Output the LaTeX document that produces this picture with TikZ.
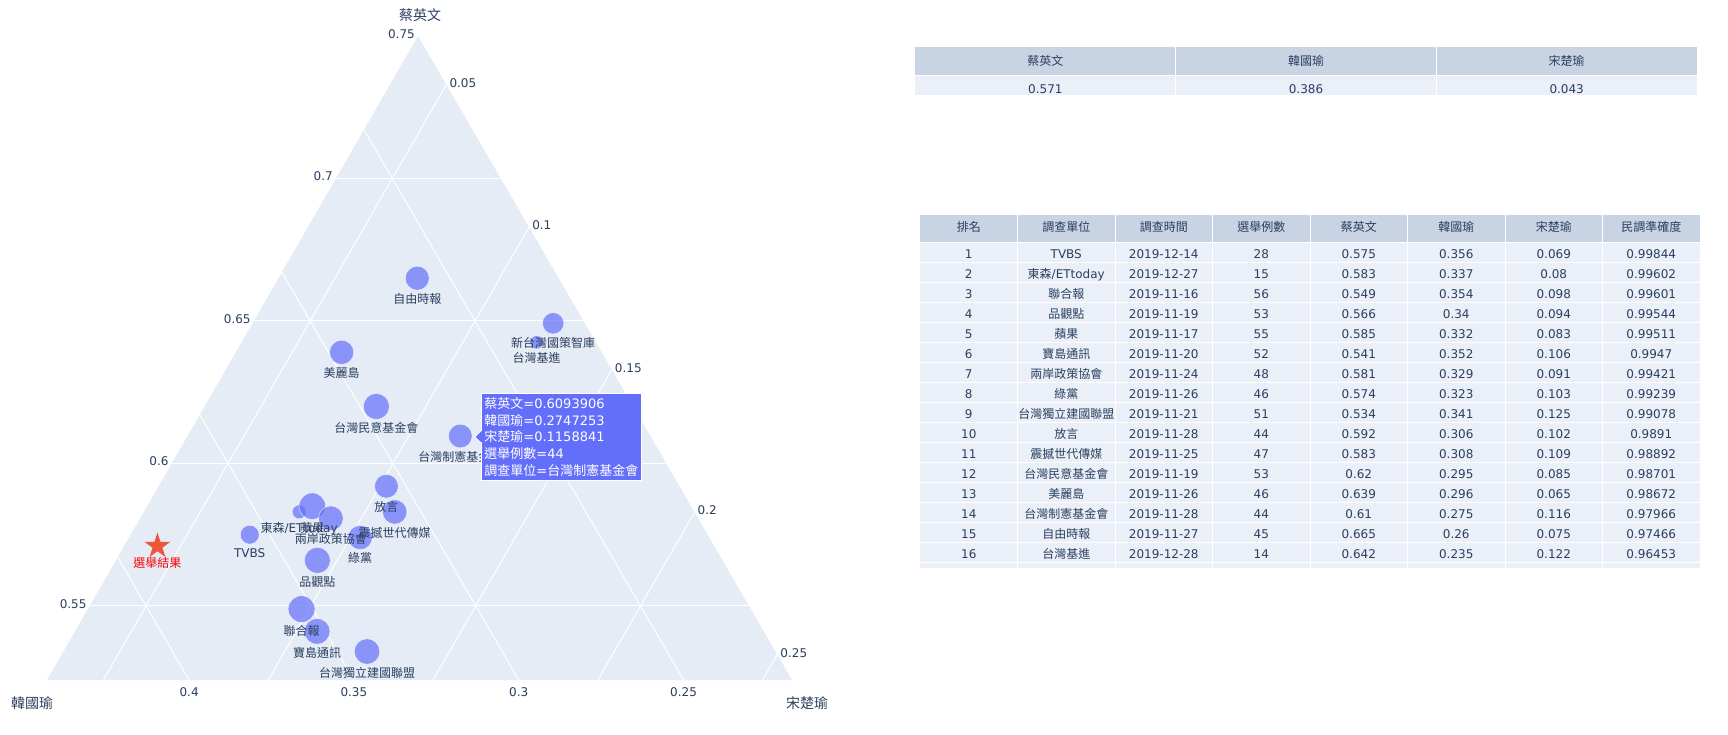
\documentclass[tikz,border=0pt]{standalone}
\usepackage{fontspec}
\setmainfont{DejaVu Sans}
\newfontfamily\cjkfont{Noto Sans CJK TC}
\usetikzlibrary{calc,positioning,shapes.geometric}

\definecolor{ternbg}{HTML}{E5ECF6}
\definecolor{pointblue}{HTML}{636EFA}
\definecolor{plotink}{HTML}{2A3F5F}
\definecolor{starred}{HTML}{EF553B}
\definecolor{headfill}{HTML}{C8D4E3}
\definecolor{cellfill}{HTML}{EBF0F8}

\newcommand\zh[1]{{\cjkfont #1}}
\newcommand\pxfont[1]{\fontsize{#1}{#1}\selectfont}

% rank/unit/date/samples/tsai/han/soong/accuracy
\newcommand\polldata{%
	1/TVBS/2019-12-14/28/0.575/0.356/0.069/0.99844,
	2/{\zh{東森}/ETtoday}/2019-12-27/15/0.583/0.337/0.08/0.99602,
	3/\zh{聯合報}/2019-11-16/56/0.549/0.354/0.098/0.99601,
	4/\zh{品觀點}/2019-11-19/53/0.566/0.34/0.094/0.99544,
	5/\zh{蘋果}/2019-11-17/55/0.585/0.332/0.083/0.99511,
	6/\zh{寶島通訊}/2019-11-20/52/0.541/0.352/0.106/0.9947,
	7/\zh{兩岸政策協會}/2019-11-24/48/0.581/0.329/0.091/0.99421,
	8/\zh{綠黨}/2019-11-26/46/0.574/0.323/0.103/0.99239,
	9/\zh{台灣獨立建國聯盟}/2019-11-21/51/0.534/0.341/0.125/0.99078,
	10/\zh{放言}/2019-11-28/44/0.592/0.306/0.102/0.9891,
	11/\zh{震撼世代傳媒}/2019-11-25/47/0.583/0.308/0.109/0.98892,
	12/\zh{台灣民意基金會}/2019-11-19/53/0.62/0.295/0.085/0.98701,
	13/\zh{美麗島}/2019-11-26/46/0.639/0.296/0.065/0.98672,
	14/\zh{台灣制憲基金會}/2019-11-28/44/0.61/0.275/0.116/0.97966,
	15/\zh{自由時報}/2019-11-27/45/0.665/0.26/0.075/0.97466,
	16/\zh{台灣基進}/2019-12-28/14/0.642/0.235/0.122/0.96453%
}

\tikzset{
	gridline/.style  = {white, line width=1pt},
	ticklabel/.style = {text=plotink, font=\pxfont{12}, inner sep=0pt},
	axistitle/.style = {ticklabel, font=\pxfont{14}},
	poll/.style      = {circle, inner sep=0pt, fill=pointblue, fill opacity=0.7,
		draw=white, draw opacity=0.7, line width=0.5pt},
	pollname/.style  = {ticklabel, anchor=base},
	result/.style    = {star, star points=5, star point ratio=2.6,
		minimum size=27pt, inner sep=0pt, fill=starred},
	hoverbox/.style  = {fill=pointblue, draw=white, line width=0.8pt,
		text=white, font=\fontsize{13}{16.7}\selectfont, align=left,
		inner xsep=3pt, inner ysep=4pt, anchor=north west},
	headcell/.style  = {text=plotink, font=\pxfont{12}, inner sep=0pt, anchor=base},
	bodycell/.style  = {headcell},
	cellrule/.style  = {white, line width=1pt}
}

\begin{document}
\begin{tikzpicture}[x=1pt, y=-1pt]
	\fill[white] (0,0) rectangle (1728,734);
	\useasboundingbox (0,0) rectangle (1728,734);

	% ternary plot
	\coordinate (T) at (418,36);
	\coordinate (L) at (47,680);
	\coordinate (R) at (792,680);
	\fill[ternbg] (T) -- (L) -- (R) -- cycle;

	\foreach \v in {0.55,0.6,0.65,0.7} {
		\pgfmathsetmacro\w{\v-0.524}
		\pgfmathsetmacro\u{0.226-\w}
		\draw[gridline] (barycentric cs:T=\w,L=\u) -- (barycentric cs:T=\w,R=\u);
	}
	\foreach \v in {0.25,0.3,0.35,0.4} {
		\pgfmathsetmacro\w{\v-0.2171}
		\pgfmathsetmacro\u{0.226-\w}
		\draw[gridline] (barycentric cs:L=\w,T=\u) -- (barycentric cs:L=\w,R=\u);
		\node[ticklabel, anchor=north] at ($(barycentric cs:L=\w,R=\u)+(0,7.5)$) {\v};
	}
	\foreach \v in {0.05,0.1,0.15,0.2,0.25} {
		\pgfmathsetmacro\w{\v-0.0329}
		\pgfmathsetmacro\u{0.226-\w}
		\draw[gridline] (barycentric cs:R=\w,T=\u) -- (barycentric cs:R=\w,L=\u);
		\node[ticklabel, anchor=west] at ($(barycentric cs:R=\w,T=\u)+(3,-2)$) {\v};
	}
	\foreach \v in {0.55,0.6,0.65,0.7,0.75} {
		\pgfmathsetmacro\w{\v-0.524}
		\pgfmathsetmacro\u{0.226-\w}
		\node[ticklabel, anchor=east] at ($(barycentric cs:T=\w,L=\u)+(-3,-2)$) {\v};
	}

	\node[axistitle] (ttsai)  at (420,15)  {\zh{蔡英文}};
	\node[axistitle] (than)   at (32,703)  {\zh{韓國瑜}};
	\node[axistitle] (tsoong) at (807,703) {\zh{宋楚瑜}};

	% polls
	\foreach \rk/\nm/\dt/\n/\tsai/\han/\soong/\acc in \polldata {
		\pgfmathsetmacro\wt{\tsai-0.524}
		\pgfmathsetmacro\wh{\han-0.2171}
		\pgfmathsetmacro\ws{\soong-0.0329}
		\pgfmathsetmacro\rad{1.786*sqrt(\n)}
		\node[poll, minimum size=2*\rad] (p\rk) at (barycentric cs:T=\wt,L=\wh,R=\ws) {};
	}
	\node[poll, minimum size=21.4] (p17) at (barycentric cs:T=0.125,L=0.0096,R=0.0911) {};

	\foreach \rk/\nm/\dt/\n/\tsai/\han/\soong/\acc in \polldata
		\node[pollname] (lab\rk) at ($(p\rk.south)+(0,13)$) {\nm};
	\node[pollname] (lab17) at ($(p17.south)+(0,13)$) {\zh{新台灣國策智庫}};

	\node[result] (elect) at (barycentric cs:T=0.047,L=0.1689,R=0.0101) {};
	\node[pollname, text=red] (labelect) at ($(elect.center)+(0,21.5)$) {\zh{選舉結果}};

	% hover label
	\node[hoverbox] (hover) at (481,393)
		{\zh{蔡英文}=0.6093906\\ \zh{韓國瑜}=0.2747253\\ \zh{宋楚瑜}=0.1158841\\
		 \zh{選舉例數}=44\\ \zh{調查單位}=\zh{台灣制憲基金會}};
	\draw[white, fill=pointblue, line width=0.8pt]
		($(hover.west)+(0,-6)$) -- ($(hover.west)+(-6,0)$) -- ($(hover.west)+(0,6)$);
	\fill[pointblue] ($(hover.west)+(0,-5.4)$) rectangle ($(hover.west)+(1.5,5.4)$);

	% result table
	\fill[headfill] (915,47) rectangle (1697,75);
	\fill[cellfill] (915,75) rectangle (1697,95);
	\foreach \x in {1175.7,1436.3}
		\draw[cellrule] (\x,47) -- (\x,95);
	\draw[cellrule] (915,75) -- (1697,75);
	\foreach \h/\val [count=\k] in {\zh{蔡英文}/0.571,\zh{韓國瑜}/0.386,\zh{宋楚瑜}/0.043} {
		\node[headcell] (res\k) at (915+260.67*\k-130.33,65.6) {\h};
		\node[bodycell] (resval\k) at (915+260.67*\k-130.33,93) {\val};
	}

	% ranking table
	\fill[headfill] (920,215) rectangle (1700,242);
	\fill[cellfill] (920,242) rectangle (1700,568);
	\foreach \i in {1,...,7}
		\draw[cellrule] (920+97.5*\i,215) -- (920+97.5*\i,568);
	\foreach \j in {0,...,16}
		\draw[cellrule] (920,242+20*\j) -- (1700,242+20*\j);
	\foreach \h [count=\k] in {\zh{排名},\zh{調查單位},\zh{調查時間},\zh{選舉例數},
		\zh{蔡英文},\zh{韓國瑜},\zh{宋楚瑜},\zh{民調準確度}}
		\node[headcell] (head\k) at (920+97.5*\k-48.75,231.3) {\h};
	\foreach \rk/\nm/\dt/\n/\tsai/\han/\soong/\acc in \polldata {
		\pgfmathsetmacro\yb{242+20*(\rk-1)+16}
		\node[bodycell] (row\rk-rank)  at (968.75,\yb)  {\rk};
		\node[bodycell] (row\rk-unit)  at (1066.25,\yb) {\nm};
		\node[bodycell] (row\rk-date)  at (1163.75,\yb) {\dt};
		\node[bodycell] (row\rk-n)     at (1261.25,\yb) {\n};
		\node[bodycell] (row\rk-tsai)  at (1358.75,\yb) {\tsai};
		\node[bodycell] (row\rk-han)   at (1456.25,\yb) {\han};
		\node[bodycell] (row\rk-soong) at (1553.75,\yb) {\soong};
		\node[bodycell] (row\rk-acc)   at (1651.25,\yb) {\acc};
	}
\end{tikzpicture}
\end{document}
